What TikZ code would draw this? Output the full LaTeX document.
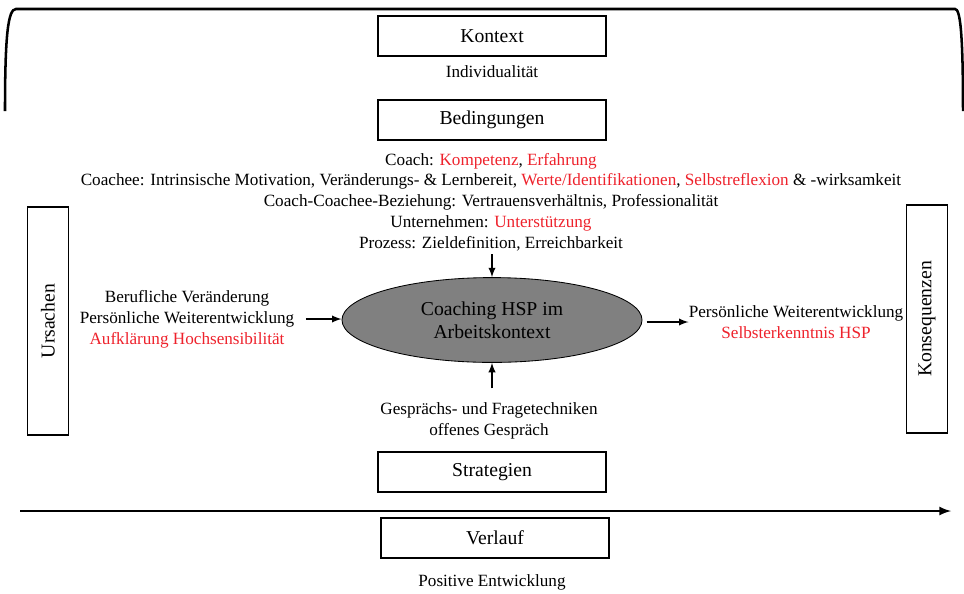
\documentclass[tikz,border=0pt]{standalone}
\usepackage{fontspec}
\setmainfont{Liberation Serif}
\usetikzlibrary{shapes, arrows, positioning}
\definecolor{hspred}{RGB}{238,34,44}
\definecolor{hspgray}{RGB}{128,128,128}
\tikzstyle{block} = [draw, rectangle, line width=1.1pt, minimum width=5.7cm, minimum height=1cm, inner sep=0pt, font=\fontsize{14}{16}\selectfont]
\tikzstyle{sidebox} = [block, minimum width=5.7cm, minimum height=1.02cm, rotate=90]
\tikzstyle{info} = [align=center, inner sep=0pt, font=\fontsize{12.2}{14.8}\selectfont]
\tikzstyle{wire} = [-latex, line width=1.3pt]
\newcommand{\hl}[1]{\textcolor{hspred}{#1}}

\begin{document}
\begin{tikzpicture}[x=0.025cm, y=-0.025cm]
    \useasboundingbox (0,0) rectangle (964,593);
    % bracket around the context
    \draw[line width=1.8pt] (5,111) .. controls (5,35) and (8,9) .. (16,9) -- (955,9)
        .. controls (960,9) and (963,30) .. (963,111);

    \node[block] (kontext) at (492,36) {Kontext};
    \node[info] (indiv) at (492,72) {Individualität};
    \node[block] (beding) at (492,120) {Bedingungen};
    \node[info] (cond) at (491,202) {Coach: \hl{Kompetenz}, \hl{Erfahrung}\\
        Coachee: Intrinsische Motivation, Veränderungs- \& Lernbereit, \hl{Werte/Identifikationen}, \hl{Selbstreflexion} \& -wirksamkeit\\
        Coach-Coachee-Beziehung: Vertrauensverhältnis, Professionalität\\
        Unternehmen: \hl{Unterstützung}\\
        Prozess: Zieldefinition, Erreichbarkeit};

    \node[draw, ellipse, fill=hspgray, line width=0.6pt, minimum width=7.5cm, minimum height=2.12cm,
        inner sep=0pt, align=center, font=\fontsize{14}{16.5}\selectfont] (coach) at (492,320)
        {Coaching HSP im\\Arbeitskontext};

    \node[sidebox] (urs) at (48,321) {Ursachen};
    \node[sidebox] (kons) at (927,319) {Konsequenzen};

    \node[info] (causes) at (187,319) {Berufliche Veränderung\\Persönliche Weiterentwicklung\\\hl{Aufklärung Hochsensibilität}};
    \node[info] (effects) at (796,322) {Persönliche Weiterentwicklung\\\hl{Selbsterkenntnis HSP}};
    \node[info] (strat) at (489,421) {Gesprächs- und Fragetechniken\\offenes Gespräch};

    \node[block] (strategien) at (492,472) {Strategien};
    \node[block] (verlauf) at (495,538) {Verlauf};
    \node[info] (posit) at (492,582) {Positive Entwicklung};

    \draw[wire, shorten <=2pt] (cond.south -| coach.north) -- (coach.north);
    \draw[wire, shorten <=10pt] (strat.north -| coach.south) -- (coach.south);
    \draw[wire, shorten <=8pt] (causes.east) -- (causes.east -| coach.west);
    \draw[wire, shorten <=3pt] (coach.east |- effects.west) -- (effects.west);

    % time line
    \coordinate (tstart) at (20,511);
    \coordinate (tend) at (951,511);
    \draw[wire, line width=1.8pt] (tstart) -- (tend);
\end{tikzpicture}
\end{document}
